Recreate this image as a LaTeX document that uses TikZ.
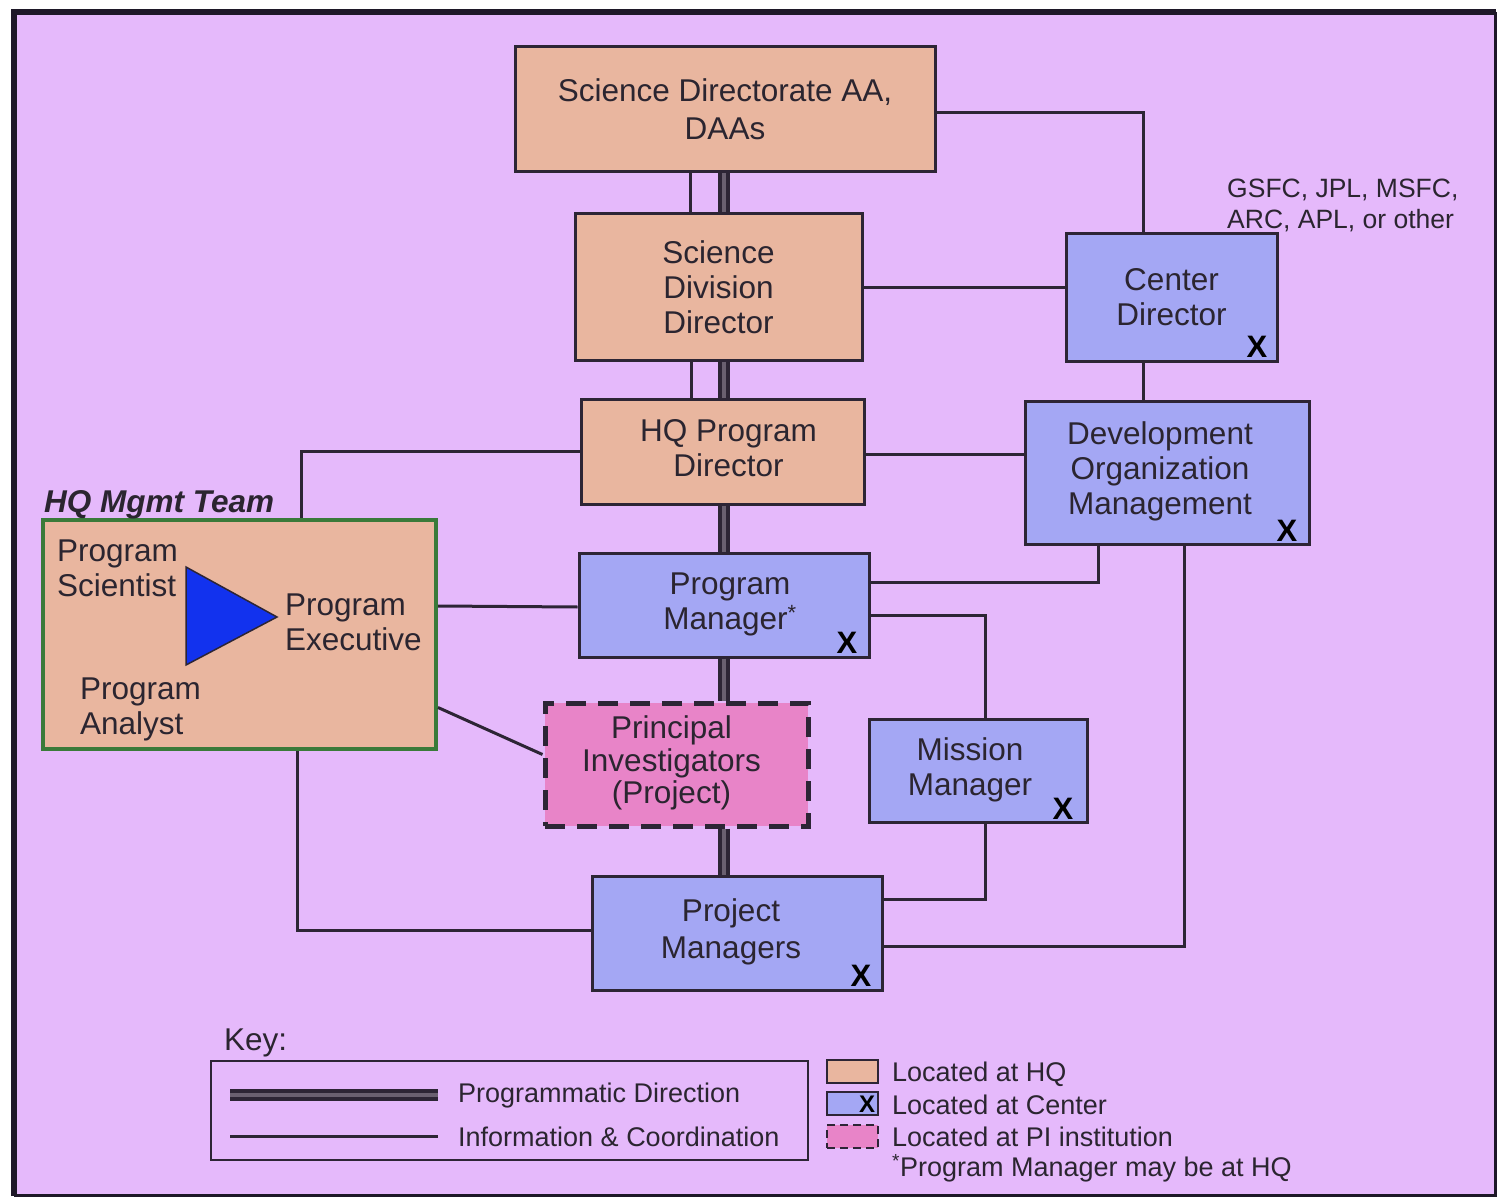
\documentclass[tikz,border=0pt]{standalone}
\usepackage{fontspec}
\setmainfont{Liberation Sans}
\usetikzlibrary{calc}
\definecolor{bgc}{HTML}{E5B9FB}
\definecolor{hqc}{HTML}{E9B69F}
\definecolor{cc}{HTML}{A4A7F4}
\definecolor{pic}{HTML}{E884C8}
\definecolor{linec}{HTML}{2D2535}
\definecolor{txt}{HTML}{2B2530}
\definecolor{framec}{HTML}{1E1828}
\definecolor{progmid}{HTML}{6A6070}
\definecolor{greenc}{HTML}{3A7A3A}
\definecolor{triblue}{HTML}{1232EE}
\newcommand\myboxfont{\fontsize{31.5}{35}\selectfont}
\newcommand\mykeyfont{\fontsize{27}{31}\selectfont}
\newcommand\myxfont{\fontsize{31}{31}\selectfont\bfseries}
% block of centred lines, shifted sideways by #1 pt
\newcommand\shblock[2]{\kern\dimexpr#1pt\relax\begin{tabular}{@{}c@{}}#2\end{tabular}\kern-\dimexpr#1pt\relax}
\begin{document}
\begin{tikzpicture}[x=1pt,y=-1pt,
  box/.style={draw=linec, line width=3pt, inner sep=0pt, align=center, font=\myboxfont, text=txt},
  hqbox/.style={box, fill=hqc},
  cbox/.style={box, fill=cc},
  pibox/.style={box, fill=pic, dash pattern=on 20pt off 12pt, line width=5pt},
  info/.style={draw=linec, line width=3pt},
  prog/.style={draw=linec, line width=4pt, double=progmid, double distance=3.5pt},
  xmark/.style={font=\myxfont, text=black, inner sep=0pt},
  lbl/.style={font=\myboxfont, text=txt, inner sep=0pt, align=left, anchor=west},
  keylbl/.style={font=\mykeyfont, text=txt, inner sep=0pt, align=left, anchor=west}]
\useasboundingbox (0,0) rectangle (1498,1198);
% background and frame
\fill[white] (0,0) rectangle (1498,1198);
\fill[bgc] (14,12) rectangle (1495,1195);
\draw[framec, line width=3pt] (1495,12) -- (1495,1195) -- (14,1195);
\draw[framec, line width=6pt] (14,1196) -- (14,12) -- (1496,12);

% nodes
\node[hqbox, minimum width=420, minimum height=125, font=\fontsize{31.5}{38}\selectfont] (sdaa) at (725,109.5) {Science Directorate AA,\\DAAs};
\node[hqbox, minimum width=287, minimum height=146] (sdd) at (718.5,287) {Science\\Division\\Director};
\node[hqbox, minimum width=283, minimum height=105] (hqpd) at (722.5,451.5) {\shblock{6}{HQ Program\\Director}};
\node[cbox, minimum width=211, minimum height=127] (cd) at (1171.5,297.5) {Center\\Director};
\node[cbox, minimum width=284, minimum height=143] (dom) at (1167,472.5) {\shblock{-7}{Development\\Organization\\Management}};
\node[cbox, minimum width=290, minimum height=104] (pm) at (724,605) {\shblock{6}{Program\\Manager\textsuperscript{*}}};
\node[pibox, minimum width=263, minimum height=123, font=\fontsize{31.5}{32}\selectfont] (pi) at (676.5,764.5) {\shblock{-5}{Principal\\Investigators\\(Project)}};
\node[cbox, minimum width=218, minimum height=103] (mm) at (978,770.5) {\shblock{-8}{Mission\\Manager}};
\node[cbox, minimum width=290, minimum height=114, font=\fontsize{31.5}{37}\selectfont] (pjm) at (737,933) {\shblock{-6}{Project\\Managers}};
\node[draw=greenc, line width=4pt, fill=hqc, minimum width=393, minimum height=229, inner sep=0pt] (mgmt) at (239.5,634.5) {};

% X marks
\node[xmark] (xcd) at (1257,347) {X};
\node[xmark] (xdom) at (1287,531) {X};
\node[xmark] (xpm) at (847,643) {X};
\node[xmark] (xmm) at (1063,809) {X};
\node[xmark] (xpjm) at (861,976) {X};

% labels
\node[lbl, font=\myboxfont\bfseries\itshape] (mgmtlbl) at (44,505) {HQ Mgmt Team};
\node[lbl] (psci) at (57,568) {Program\\Scientist};
\node[lbl] (pexe) at (285,622) {Program\\Executive};
\node[lbl] (pana) at (80,709) {Program\\Analyst};
\node[keylbl, font=\fontsize{26.5}{31}\selectfont] (centers) at (1227,205) {GSFC, JPL, MSFC,\\ARC, APL, or other};
\filldraw[fill=triblue, draw=linec, line width=1.5pt] (186,567) -- (277,617) -- (186,665) -- cycle;

% programmatic direction (thick)
\draw[prog] (sdaa.south -| pm.north) -- (sdd.north -| pm.north);
\draw[prog] (sdd.south -| pm.north) -- (hqpd.north -| pm.north);
\draw[prog] (hqpd.south -| pm.north) -- (pm.north);
\draw[prog] (pm.south) -- (pi.north -| pm.south);
\draw[prog] (pi.south -| pm.south) -- (pjm.north -| pm.south);

% information & coordination (thin)
\draw[info] ([xshift=-28.5pt]sdd.north) -- ([xshift=-28.5pt]sdd.north |- sdaa.south);
\draw[info] ([xshift=-27.5pt]sdd.south) -- ([xshift=-27.5pt]sdd.south |- hqpd.north);
\draw[info] ([yshift=-3.5pt]sdaa.east) -| ([xshift=-28.5pt]cd.north);
\draw[info] (sdd.east) -- (sdd.east -| cd.west);
\draw[info] ([xshift=-28.5pt]cd.south) -- ([xshift=-28.5pt]cd.south |- dom.north);
\draw[info] ([yshift=-3pt]hqpd.east) -- ([yshift=-3pt]hqpd.east -| dom.west);
\draw[info] (hqpd.west) -| ([xshift=61.5pt]mgmt.north);
\draw[info] ([yshift=28.5pt]mgmt.east) -- ([yshift=-2pt]pm.west);
\draw[info] ([yshift=-73pt]mgmt.east) -- ([yshift=10pt]pi.west);
\draw[info] ([xshift=57.5pt]mgmt.south) |- ([yshift=3pt]pjm.west);
\draw[info] ([yshift=23pt]pm.east) -| ([xshift=-69pt]dom.south);
\draw[info] ([yshift=-10pt]pm.east) -| ([xshift=7pt]mm.north);
\draw[info] ([xshift=7pt]mm.south) |- ([yshift=34pt]pjm.east);
\draw[info] ([xshift=17pt]dom.south) |- ([yshift=-13pt]pjm.east);

% key
\node[lbl] (keyhead) at (224,1043) {Key:};
\node[draw=linec, line width=2.5pt, minimum width=597, minimum height=99, inner sep=0pt] (keybox) at (509.5,1110.5) {};
\coordinate (k1a) at (230,1095);
\coordinate (k1b) at (438,1095);
\coordinate (k2a) at (230,1136);
\coordinate (k2b) at (438,1136);
\draw[prog] (k1a) -- (k1b);
\draw[info] (k2a) -- (k2b);
\node[keylbl] (kprog) at (458,1096) {Programmatic Direction};
\node[keylbl] (kinfo) at (458,1137) {Information \& Coordination};
\node[draw=linec, line width=2.5pt, fill=hqc, minimum width=51, minimum height=23, inner sep=0pt] (lhq) at (852.5,1071.5) {};
\node[draw=linec, line width=2.5pt, fill=cc, minimum width=51, minimum height=23, inner sep=0pt] (lc) at (852.5,1103.5) {};
\node[xmark, font=\fontsize{24}{24}\selectfont\bfseries] (lcx) at (867,1104) {X};
\node[draw=linec, line width=2.5pt, fill=pic, dash pattern=on 8pt off 5pt, minimum width=51, minimum height=23, inner sep=0pt] (lpi) at (852.5,1136.5) {};
\node[keylbl] (khq) at (892,1074) {Located at HQ};
\node[keylbl] (kc) at (892,1105) {Located at Center};
\node[keylbl] (kpi) at (892,1137) {Located at PI institution};
\node[keylbl] (knote) at (892,1168) {\textsuperscript{*}Program Manager may be at HQ};
\end{tikzpicture}
\end{document}
